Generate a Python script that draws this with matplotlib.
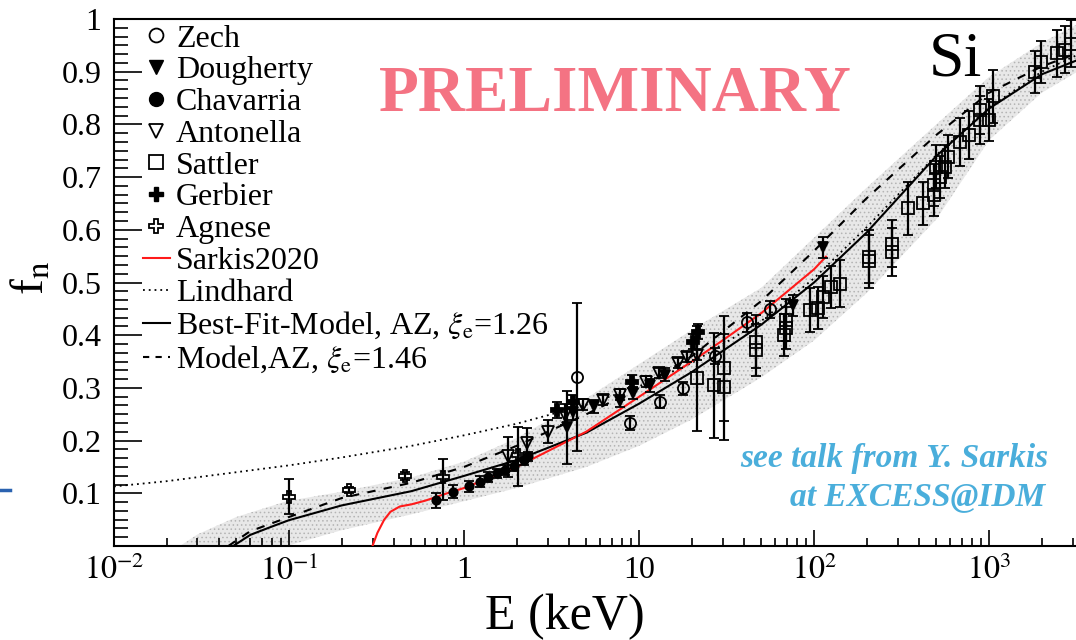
import numpy as np
import matplotlib
matplotlib.use('Agg')
import matplotlib.pyplot as plt
from matplotlib.lines import Line2D
from matplotlib.ticker import MultipleLocator, NullFormatter

plt.rcParams['font.family'] = ['Liberation Serif', 'DejaVu Serif']
plt.rcParams['mathtext.fontset'] = 'stix'
plt.rcParams['hatch.linewidth'] = 0.6
plt.rcParams['hatch.color'] = '#b4b4b4'

# ---------------- data ----------------
zech_E = [4.41, 8.9, 13.2, 17.9, 27.2, 41.2, 56.1]
zech_f = [0.321, 0.233, 0.274, 0.299, 0.360, 0.425, 0.449]
zech_lo = [0.14, 0.013, 0.013, 0.013, 0.015, 0.018, 0.016]
zech_hi = [0.14, 0.013, 0.013, 0.013, 0.015, 0.018, 0.016]

dough_E = [3.9, 4.2, 5.5, 7.8, 9.3, 11.5, 14.0, 76.0, 112.0]
dough_f = [0.225, 0.255, 0.265, 0.275, 0.290, 0.305, 0.325, 0.457, 0.567]
dough_lo = [0.07, 0.015, 0.012, 0.012, 0.012, 0.012, 0.012, 0.02, 0.02]
dough_hi = [0.07, 0.015, 0.012, 0.012, 0.012, 0.012, 0.012, 0.02, 0.02]

chav_E = [0.69, 0.87, 1.07, 1.23, 1.38, 1.54, 1.71, 1.94, 2.19, 2.33]
chav_f = [0.087, 0.103, 0.113, 0.122, 0.131, 0.138, 0.144, 0.152, 0.163, 0.170]
chav_lo = [0.014, 0.012, 0.011, 0.01, 0.01, 0.009, 0.009, 0.009, 0.009, 0.009]
chav_hi = [0.014, 0.012, 0.011, 0.01, 0.01, 0.009, 0.009, 0.009, 0.009, 0.009]

anto_E = [1.79, 2.3, 3.0, 3.8, 4.8, 6.2, 7.8, 11.0, 13.0, 16.7, 18.9, 21.4]
anto_f = [0.170, 0.195, 0.217, 0.249, 0.268, 0.277, 0.287, 0.312, 0.328, 0.347, 0.359, 0.362]
anto_lo = [0.04, 0.03, 0.022, 0.02, 0.01, 0.01, 0.01, 0.01, 0.01, 0.01, 0.01, 0.01]
anto_hi = [0.036, 0.028, 0.022, 0.02, 0.01, 0.01, 0.01, 0.01, 0.01, 0.01, 0.01, 0.01]

satt_E = [21.4, 26.8, 30.5, 30.5, 46.4, 46.4, 67.0, 69.0, 69.0, 95.0, 106.0, 113.0,
          125.0, 141.0, 205.0, 205.0, 278.0, 278.0, 344.0, 420.0, 483.0, 483.0,
          495.0, 525.0, 560.0, 585.0, 685.0, 770.0, 890.0, 890.0, 1000.0, 1050.0,
          1820.0, 1990.0, 2450.0, 2720.0, 2940.0]
satt_f = [0.318, 0.305, 0.337, 0.302, 0.388, 0.372, 0.400, 0.413, 0.429, 0.448, 0.451, 0.473,
          0.492, 0.498, 0.549, 0.540, 0.574, 0.558, 0.641, 0.650, 0.685, 0.666,
          0.720, 0.700, 0.720, 0.739, 0.767, 0.780, 0.827, 0.808, 0.808, 0.853,
          0.900, 0.919, 0.935, 0.942, 0.953]
satt_err = [0.10, 0.10, 0.10, 0.10, 0.05, 0.05, 0.04, 0.04, 0.04, 0.041, 0.04, 0.04,
            0.04, 0.045, 0.05, 0.05, 0.045, 0.045, 0.05, 0.04, 0.04, 0.04,
            0.04, 0.04, 0.04, 0.04, 0.045, 0.045, 0.045, 0.045, 0.04, 0.05,
            0.04, 0.04, 0.045, 0.045, 0.045]

gerb_E = [3.4, 4.2, 9.1, 20.4, 21.8]
gerb_f = [0.258, 0.274, 0.312, 0.388, 0.407]
gerb_err = [0.016, 0.012, 0.012, 0.015, 0.015]

agn_E = [0.10, 0.22, 0.46, 0.76, 2.04]
agn_f = [0.093, 0.106, 0.133, 0.130, 0.172]
agn_lo = [0.032, 0.006, 0.008, 0.043, 0.058]
agn_hi = [0.034, 0.006, 0.008, 0.035, 0.054]

sark_E = [0.30, 0.32, 0.35, 0.38, 0.43, 0.50, 0.60, 0.80, 1.0, 2.0, 5.0, 10.0, 20.0, 30.0, 50.0, 100.0, 117.0]
sark_f = [0.0, 0.025, 0.050, 0.065, 0.075, 0.079, 0.086, 0.100, 0.110, 0.150, 0.217, 0.283, 0.350, 0.390, 0.442, 0.525, 0.549]

lind_E = [0.01, 0.02, 0.05, 0.1, 0.2, 0.5, 1.0, 2.0, 5.0, 10.0, 20.0, 50.0, 100.0, 200.0, 500.0, 1000.0, 2000.0, 3200.0]
lind_f = [0.113, 0.123, 0.140, 0.153, 0.168, 0.190, 0.210, 0.232, 0.268, 0.303, 0.347, 0.427, 0.508, 0.605, 0.742, 0.832, 0.900, 0.932]

best_E = [0.048, 0.06, 0.08, 0.1, 0.2, 0.5, 1.0, 2.0, 5.0, 10.0, 20.0, 50.0, 100.0, 200.0, 500.0, 1000.0, 2000.0, 3200.0]
best_f = [0.0, 0.021, 0.037, 0.049, 0.077, 0.104, 0.133, 0.163, 0.215, 0.270, 0.330, 0.420, 0.500, 0.595, 0.740, 0.830, 0.895, 0.922]

mod_E = [0.045, 0.06, 0.1, 0.2, 0.5, 1.0, 2.0, 5.0, 10.0, 20.0, 50.0, 100.0, 200.0, 500.0, 1000.0, 2000.0, 3200.0]
mod_f = [0.0, 0.028, 0.055, 0.091, 0.120, 0.150, 0.190, 0.250, 0.300, 0.360, 0.465, 0.560, 0.660, 0.780, 0.860, 0.910, 0.935]

band_E = [0.0238, 0.03, 0.05, 0.097, 0.2, 0.5, 1.0, 2.0, 5.0, 10.0, 20.0, 50.0, 100.0, 200.0, 500.0, 1000.0, 2000.0, 3200.0]
band_hi = [0.0, 0.022, 0.055, 0.085, 0.103, 0.130, 0.160, 0.205, 0.280, 0.345, 0.410, 0.490, 0.585, 0.680, 0.800, 0.890, 0.955, 0.990]
band_lo = [0.0, 0.0, 0.0, 0.0, 0.030, 0.060, 0.085, 0.110, 0.150, 0.190, 0.240, 0.320, 0.390, 0.480, 0.620, 0.770, 0.860, 0.900]

xtick_vals = [1e-2, 1e-1, 1, 10, 1e2, 1e3]
xtick_labels = ['$10^{-2}$', '$10^{-1}$', '1', '10', '$10^{2}$', '$10^{3}$']
ytick_vals = [0.1, 0.2, 0.3, 0.4, 0.5, 0.6, 0.7, 0.8, 0.9, 1.0]
ytick_labels = ['0.1', '0.2', '0.3', '0.4', '0.5', '0.6', '0.7', '0.8', '0.9', '1']

# ---------------- figure ----------------
W, H = 1076, 640
fig = plt.figure(figsize=(W / 100, H / 100), dpi=100)
ax = fig.add_axes([114 / W, (H - 546) / H, (W - 114) / W, 527 / H])
ax.set_xscale('log')
ax.set_xlim(1e-2, 10 ** 3.497)
ax.set_ylim(0, 1)

ax.fill_between(band_E, band_lo, band_hi, facecolor='#e8e8e8', edgecolor='#b4b4b4',
                hatch='....', linewidth=0, zorder=1)

ax.plot(lind_E, lind_f, color='k', ls=(0, (1, 2.2)), lw=1.3, zorder=2)
ax.plot(mod_E, mod_f, color='k', ls=(0, (4, 4)), lw=1.5, zorder=2)
ax.plot(best_E, best_f, color='k', ls='-', lw=1.5, zorder=2)
ax.plot(sark_E, sark_f, color='#ff1a1a', ls='-', lw=1.5, zorder=3)

eb = dict(ecolor='k', elinewidth=1.6, capsize=3.5, capthick=1.6, mec='k', mew=1.3, ls='none', zorder=4)
ax.errorbar(satt_E, satt_f, yerr=satt_err, fmt='s', ms=8, mfc='none', **eb)
ax.errorbar(zech_E, zech_f, yerr=[zech_lo, zech_hi], fmt='o', ms=8, mfc='none', **eb)
ax.errorbar(anto_E, anto_f, yerr=[anto_lo, anto_hi], fmt='v', ms=8, mfc='none', **eb)
ax.errorbar(dough_E, dough_f, yerr=[dough_lo, dough_hi], fmt='v', ms=7, mfc='k', **eb)
ax.errorbar(chav_E, chav_f, yerr=[chav_lo, chav_hi], fmt='o', ms=6, mfc='k', **eb)
ax.errorbar(gerb_E, gerb_f, yerr=gerb_err, fmt='P', ms=8, mfc='k', **eb)
ax.errorbar(agn_E, agn_f, yerr=[agn_lo, agn_hi], fmt='P', ms=9, mfc='none', **eb)

# axes styling
for s in ['left', 'bottom', 'top']:
    ax.spines[s].set_linewidth(1.5)
ax.spines['right'].set_visible(False)
ax.set_xticks(xtick_vals, xtick_labels)
ax.xaxis.set_minor_formatter(NullFormatter())
ax.set_yticks(ytick_vals, ytick_labels)
ax.yaxis.set_minor_locator(MultipleLocator(1 / 60))
ax.tick_params(axis='both', which='both', direction='in', top=False, right=False,
               width=1.2, labelsize=23)
ax.tick_params(axis='x', which='major', length=11.5, pad=7)
ax.tick_params(axis='x', which='minor', length=6)
ax.tick_params(axis='y', which='major', length=20, pad=9)
ax.tick_params(axis='y', which='minor', length=10)

fig.text(565 / W, 1 - 617 / H, 'E (keV)', ha='center', va='center', fontsize=36)
fig.text(32 / W, 1 - 278 / H, r'f$_{\mathrm{n}}$', ha='center', va='center', rotation=90, fontsize=34)

# legend
handles = [
    Line2D([], [], marker='o', ls='none', mfc='none', mec='k', mew=1.3, ms=10),
    Line2D([], [], marker='v', ls='none', mfc='k', mec='k', ms=10),
    Line2D([], [], marker='o', ls='none', mfc='k', mec='k', ms=10),
    Line2D([], [], marker='v', ls='none', mfc='none', mec='k', mew=1.3, ms=10),
    Line2D([], [], marker='s', ls='none', mfc='none', mec='k', mew=1.3, ms=10),
    Line2D([], [], marker='P', ls='none', mfc='k', mec='k', ms=10),
    Line2D([], [], marker='P', ls='none', mfc='none', mec='k', mew=1.3, ms=10),
    Line2D([], [], color='#ff1a1a', lw=1.5),
    Line2D([], [], color='k', ls=(0, (1, 2.2)), lw=1.3),
    Line2D([], [], color='k', lw=1.5),
    Line2D([], [], color='k', ls=(0, (3, 3)), lw=1.5),
]
labels = ['Zech', 'Dougherty', 'Chavarria', 'Antonella', 'Sattler', 'Gerbier', 'Agnese',
          'Sarkis2020', 'Lindhard', r'Best-Fit-Model, AZ, $\xi_{\mathrm{e}}$=1.26',
          r'Model,AZ, $\xi_{\mathrm{e}}$=1.46']
ax.legend(handles, labels, loc='upper left', bbox_to_anchor=(0.0298, 0.99), frameon=False,
          fontsize=23, handlelength=0.85, handletextpad=0.2, labelspacing=0.075,
          borderpad=0, borderaxespad=0)

fig.text(615 / W, 1 - 95 / H, 'PRELIMINARY', ha='center', va='center', fontsize=47,
         fontweight='bold', color='#f47383')
fig.text(955 / W, 1 - 60 / H, 'Si', ha='center', va='center', fontsize=46, color='k')
fig.text(1048 / W, 1 - 458 / H, 'see talk from Y. Sarkis', ha='right', va='center', fontsize=24,
         fontweight='bold', fontstyle='italic', color='#4aaedb')
fig.text(1045 / W, 1 - 497 / H, 'at EXCESS@IDM', ha='right', va='center', fontsize=24,
         fontweight='bold', fontstyle='italic', color='#4aaedb')

fig.add_artist(Line2D([0, 10 / W], [1 - 490 / H, 1 - 490 / H], color='#2a62b0', lw=2.5))

fig.savefig('out.png', dpi=100)
